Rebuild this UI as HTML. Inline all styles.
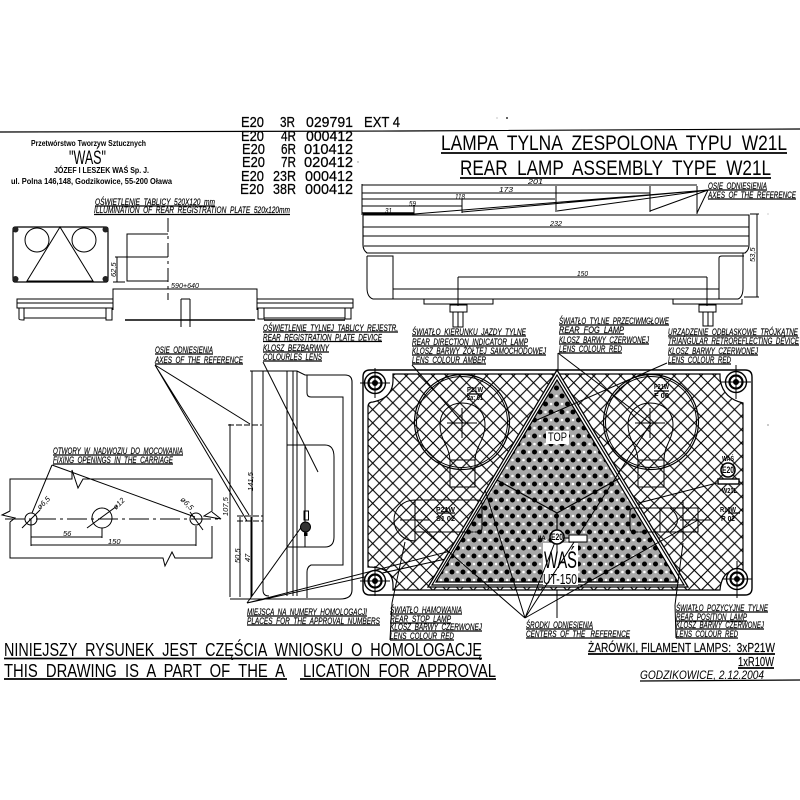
<!DOCTYPE html>
<html><head><meta charset="utf-8"><style>
html,body{margin:0;padding:0;background:#fff}
svg{display:block}
text{font-family:"Liberation Sans",sans-serif;fill:#000;white-space:pre}
.i{font-style:italic;font-size:9.5px;stroke:#000;stroke-width:.18}
.s{font-size:7.5px;font-style:italic}
.b{font-weight:bold;font-size:7px}
.e text{font-size:15px;stroke:#000;stroke-width:.25}
.h{stroke:#000;stroke-width:.15}
</style></head><body>
<svg width="800" height="800" viewBox="0 0 800 800" xmlns="http://www.w3.org/2000/svg">
<defs>
<pattern id="h" width="13.4" height="13.4" patternUnits="userSpaceOnUse" x="366" y="376">
<path d="M0 0L13.4 13.4M13.4 0L0 13.4" stroke="#000" stroke-width="1.1"/>
</pattern>
<pattern id="d" width="11" height="16" patternUnits="userSpaceOnUse" x="430" y="380">
<rect width="11" height="16" fill="#a8a8a8"/>
<circle cx="5.5" cy="0" r="1.3" fill="#fff"/><circle cx="5.5" cy="16" r="1.3" fill="#fff"/>
<circle cx="0" cy="8" r="1.3" fill="#fff"/><circle cx="11" cy="8" r="1.3" fill="#fff"/>
<circle cx="0" cy="0" r="2.5"/><circle cx="11" cy="0" r="2.5"/><circle cx="0" cy="16" r="2.5"/><circle cx="11" cy="16" r="2.5"/>
<circle cx="5.5" cy="8" r="2.5"/>
</pattern>
</defs>
<rect width="800" height="800" fill="#fff"/>
<g fill="none" stroke="#000" stroke-width="1">
<path d="M0 132L400 131L800 129" stroke-width="1.2"/>

<!-- side view top right -->
<path d="M363 215H749V245Q749 250 745 253H367Q363 250 363 245Z" stroke-width="1.1"/>
<path d="M363 227H749M363 236H749M364 246H748M363 214H414" />
<path d="M367 256H393V299M367 256V288Q367 297 373 299H738Q743 297 743 288V253M719 299V258Q719 256 722 256H744M393 289H719" />
<path d="M424 299V304H493V299M673 299V304H742V299"/>
<path d="M450 305V312H467V305ZM453 312V327H463V312ZM458 312V327M699 305V312H716V305ZM703 312V326H713V312ZM708 312V326"/>
<path d="M458 277H707M458 277V306M707 277V306"/>
<path d="M362 184V215M362 185H697M697 186V214M650 186V212M556 186V212M462 199V213M414 205V214"/>
<path d="M362 193H650M362 199H555M362 206H462"/>
<path d="M362 213H414" stroke-width="1.6"/>
<path d="M708 190L414 214M708 190L462 212M708 190L557 211M708 190L650 211M708 190L697 213"/>
<path d="M750 214H759M744 297H759M757 214V297"/>

<!-- small lamp -->
<rect x="13" y="227" width="95" height="55" rx="2" stroke-width="1.2"/>
<circle cx="37" cy="240" r="12"/><circle cx="84" cy="240" r="12"/>
<path d="M60 227L27 281H93Z"/>
<g fill="#222" stroke="none"><circle cx="15.500" cy="229.500" r="3"/><circle cx="105.500" cy="229.500" r="3"/><circle cx="15.500" cy="279" r="3"/><circle cx="105.500" cy="279" r="3"/></g>
<path d="M168 218V300" stroke-dasharray="14 4 3 4"/>
<path d="M168 234H127V281H168"/>
<path d="M168 257H115M117 257V282M113 282H125"/>
<path d="M113 310V289H257V310"/>
<path d="M17 299H113V308H17ZM17 303H113M19 308V319Q19 320 24 320V308M106 308V320H112V308M24 318H106"/>
<path d="M257 299H353V308H257ZM257 303H353M258 308V319H264V308M345 308V319H351V308M264 318H345"/>
<path d="M125 320H255M264 320H345" stroke-width="1.4"/>
<path d="M181 299V327M190 299V327M181 299H190"/>

<!-- section view -->
<path d="M250 371H297L305 375H345Q352 375 352 382V590Q352 599 340 599H230" stroke-width="1.1"/>
<path d="M252 371V596M263 371V590Q263 596 269 596M287 371V596M293 371V596M297 371V596"/>
<path d="M307 375V393Q307 397 311 397H343V565H311Q307 567 307 572V598"/>
<path d="M287 445H325Q334 445 334 457V537Q334 547 325 547H287M305 445V547"/>
<path d="M228 425H262" stroke-dasharray="6 2"/>
<path d="M230 424V597M240 517V597M251 517V597"/>
<path d="M237 516H263M237 521H263" stroke-dasharray="6 2"/>
<path d="M155 365L250 424M155 365L249 515M155 365L247 521"/>
<path d="M263 362L318 472"/>
<path d="M247 603L305 522M247 603L717 483M247 603L545 537"/>
<rect x="304" y="511" width="4.500" height="9"/>
<circle cx="305.500" cy="527" r="5" fill="#333"/>
<rect x="304.500" y="533" width="2.500" height="2.500" fill="#000"/>

<!-- fixing drawing -->
<path d="M10 511V479H72L72 470L78 488L83 479H212V511L204 516L221 519L212 512M212 526V558H175L172 552L165 566L163 558H10V522M10 511L2 515L15 518L10 522"/>
<circle cx="31" cy="519" r="6"/><circle cx="102" cy="518" r="10"/><circle cx="196" cy="519" r="6"/>
<path d="M5 519H220" stroke-dasharray="20 4 3 4"/>
<path d="M22 528L40 510M87 528L117 506M203 530L190 512M52 465L32 513M52 465L195 517"/>
<path d="M31 520V546M102 528V538M196 526V546M31 537H102M31 545H196"/>

<!-- main lamp -->
<path d="M376 370H745Q752 370 752 377V588Q752 595 745 595H370Q363 595 363 588V377Q363 370 370 370Z" stroke-width="1.4"/>
<path d="M393 374H720V378Q722 398 743 403V570Q722 567 720 590H393V585Q393 567 368 567V407Q368 402 373 402Q393 398 393 380Z" fill="url(#h)" stroke-width="1.2"/>
<path d="M557 370L428 587H688Z" fill="#fff" stroke-width="1.3"/>
<path d="M557 375L432 585H684Z" stroke-width="1.2"/>
<path d="M557 380L436 582H678Z" fill="url(#d)" stroke-width="1.2"/>
<rect x="543" y="543" width="35" height="42" fill="#fff" stroke="none"/>
<rect x="546" y="431" width="23" height="13" fill="#fff" stroke="none"/>
<path d="M557 513L497 480M557 513L620 478M557 513V530" stroke-width="1.2"/>

<circle cx="462" cy="422" r="47.500" stroke-width="1.2"/><circle cx="462" cy="422" r="45.500"/>
<circle cx="651" cy="422" r="47.500" stroke-width="1.2"/><circle cx="651" cy="422" r="45.500"/>
<path d="M450 460C449 445 440 440 440 425C440 411 450 403 462 403C475 403 485 411 485 425C485 440 476 445 475 460M450 460V487H475V460ZM447 423H477M462 408V438"/>
<path d="M638 460C637 445 628 440 628 425C628 411 638 403 650 403C663 403 673 411 673 425C673 440 664 445 664 460M638 460V487H664V460ZM635 423H665M650 408V438"/>
<path d="M415 500C403 500 394 509 394 520C394 531 403 541 415 541M415 500V541M415 500H478Q482 500 482 504V528Q482 532 478 532H415M400 520H430"/>
<path d="M634 508H698V532H634Q630 532 630 528V512Q630 508 634 508ZM660 508V532M683 500V540M680 520H712M670 508Q685 520 670 532"/>

<g fill="#fff" stroke="#000">
<g><circle cx="375" cy="383" r="10.500" stroke-width="1.4"/><circle cx="375" cy="383" r="6.500" stroke-width="2.200"/><circle cx="375" cy="383" r="2.500" fill="#000"/><path d="M360 383H390M375 368V398"/></g>
<g><circle cx="736" cy="382" r="10.500" stroke-width="1.4"/><circle cx="736" cy="382" r="6.500" stroke-width="2.200"/><circle cx="736" cy="382" r="2.500" fill="#000"/><path d="M721 382H751M736 365V399"/></g>
<g><circle cx="375" cy="581" r="10.500" stroke-width="1.4"/><circle cx="375" cy="581" r="6.500" stroke-width="2.200"/><circle cx="375" cy="581" r="2.500" fill="#000"/><path d="M360 581H390M375 566V596"/></g>
<g><circle cx="737" cy="579" r="10.500" stroke-width="1.4"/><circle cx="737" cy="579" r="6.500" stroke-width="2.200"/><circle cx="737" cy="579" r="2.500" fill="#000"/><path d="M722 579H752M737 561V598"/></g>
</g>

<!-- leaders in lamp -->
<path d="M412 365L463 423M558 353V370M558 353L650 423M667 363L537 420M525 618L418 525M525 618L485 490M525 618L557 537M525 618L651 423M525 618L698 520M557 590V618"/>
<path d="M392 603L390 640M392 603L405 542M675 605L676 638M675 605L683 543"/>
<circle cx="557" cy="537" r="7" fill="#fff" stroke-width="1.6"/>
<rect x="569" y="535" width="18" height="7" fill="#fff"/>
<path d="M564 538H569M557 544V552"/>
<circle cx="728" cy="470" r="7" fill="#fff" stroke-width="1.6"/>
<rect x="718" y="479" width="21" height="5" fill="#fff" stroke-width="1.4"/>

<!-- underlines -->
<path stroke-width="1.300" d="M95 206H215M94 214.500H290M708 190H767M708 199H796M263 332H398M263 341.500H382M263 352H329M263 361H322M155 354H213M155 364H243M53 455H183M53 464H173M247 616H367M247 625H380M412 336H526M412 346H528M412 355H546M412 364H486M559 325H669M559 334H624M559 344H649M559 353H622M668 336H798M668 345H799M668 355H758M668 364H731M390 614H462M390 623H451M390 631H482M390 640H454M526 629H593M526 638H630M676 612H768M676 621H747M676 629H764M676 638H738"/>
<path stroke-width="1.800" d="M441 153H787M460 178H771M4 658.500H482M4 679H287M300 679H496M588 654H775M738 668H774"/>
<path stroke-width="1.200" d="M640 681L800 680M437 513H455M467 394H483M654 391H669M728 513H740"/>
</g>

<!-- texts -->
<text x="31" y="146" class="b" style="font-size:8px" textLength="115" lengthAdjust="spacingAndGlyphs">Przetwórstwo Tworzyw Sztucznych</text>
<text x="69" y="164" style="font-size:19px" textLength="37" lengthAdjust="spacingAndGlyphs">"WAŚ"</text>
<text x="54" y="173" class="b" style="font-size:8px" textLength="95" lengthAdjust="spacingAndGlyphs">JÓZEF I LESZEK WAŚ Sp. J.</text>
<text x="11" y="184" class="b" style="font-size:8px" textLength="161" lengthAdjust="spacingAndGlyphs">ul. Polna 146,148, Godzikowice, 55-200 Oława</text>

<g class="e">
<text x="241" y="127" textLength="23" lengthAdjust="spacingAndGlyphs">E20</text><text x="280" y="127" textLength="15" lengthAdjust="spacingAndGlyphs">3R</text><text x="306" y="127" textLength="47" lengthAdjust="spacingAndGlyphs">029791</text><text x="364" y="127" textLength="36" lengthAdjust="spacingAndGlyphs">EXT 4</text>
<text x="241" y="141" textLength="23" lengthAdjust="spacingAndGlyphs">E20</text><text x="281" y="141" textLength="15" lengthAdjust="spacingAndGlyphs">4R</text><text x="306" y="141" textLength="47" lengthAdjust="spacingAndGlyphs">000412</text>
<text x="242" y="154" textLength="23" lengthAdjust="spacingAndGlyphs">E20</text><text x="281" y="154" textLength="15" lengthAdjust="spacingAndGlyphs">6R</text><text x="304" y="154" textLength="49" lengthAdjust="spacingAndGlyphs">010412</text>
<text x="242" y="167" textLength="23" lengthAdjust="spacingAndGlyphs">E20</text><text x="281" y="167" textLength="15" lengthAdjust="spacingAndGlyphs">7R</text><text x="304" y="167" textLength="49" lengthAdjust="spacingAndGlyphs">020412</text>
<text x="241" y="181" textLength="23" lengthAdjust="spacingAndGlyphs">E20</text><text x="273" y="181" textLength="23" lengthAdjust="spacingAndGlyphs">23R</text><text x="305" y="181" textLength="48" lengthAdjust="spacingAndGlyphs">000412</text>
<text x="240" y="194" textLength="24" lengthAdjust="spacingAndGlyphs">E20</text><text x="273" y="194" textLength="23" lengthAdjust="spacingAndGlyphs">38R</text><text x="305" y="194" textLength="48" lengthAdjust="spacingAndGlyphs">000412</text>
</g>

<text x="441" y="150" style="font-size:21px" textLength="346" lengthAdjust="spacingAndGlyphs">LAMPA  TYLNA  ZESPOLONA  TYPU  W21L</text>
<text x="460" y="175" style="font-size:21px" textLength="311" lengthAdjust="spacingAndGlyphs">REAR  LAMP  ASSEMBLY  TYPE  W21L</text>

<text x="95" y="205" class="i" textLength="120" lengthAdjust="spacingAndGlyphs">OŚWIETLENIE  TABLICY  520X120  mm</text>
<text x="94" y="213" class="i" textLength="196" lengthAdjust="spacingAndGlyphs">ILLUMINATION  OF  REAR  REGISTRATION  PLATE  520x120mm</text>
<text x="708" y="189" class="i" textLength="59" lengthAdjust="spacingAndGlyphs">OSIE  ODNIESIENIA</text>
<text x="708" y="198" class="i" textLength="88" lengthAdjust="spacingAndGlyphs">AXES  OF  THE  REFERENCE</text>

<text x="263" y="331" class="i" textLength="135" lengthAdjust="spacingAndGlyphs">OŚWIETLENIE  TYLNEJ  TABLICY  REJESTR.</text>
<text x="263" y="340.500" class="i" textLength="119" lengthAdjust="spacingAndGlyphs">REAR  REGISTRATION  PLATE  DEVICE</text>
<text x="263" y="351" class="i" textLength="66" lengthAdjust="spacingAndGlyphs">KLOSZ  BEZBARWNY</text>
<text x="263" y="360" class="i" textLength="59" lengthAdjust="spacingAndGlyphs">COLOURLES  LENS</text>

<text x="155" y="353" class="i" textLength="58" lengthAdjust="spacingAndGlyphs">OSIE  ODNIESIENIA</text>
<text x="155" y="363" class="i" textLength="88" lengthAdjust="spacingAndGlyphs">AXES  OF  THE  REFERENCE</text>

<text x="53" y="454" class="i" textLength="130" lengthAdjust="spacingAndGlyphs">OTWORY  W  NADWOZIU  DO  MOCOWANIA</text>
<text x="53" y="463" class="i" textLength="120" lengthAdjust="spacingAndGlyphs">FIXING  OPENINGS  IN  THE  CARRIAGE</text>

<text x="247" y="615" class="i" textLength="120" lengthAdjust="spacingAndGlyphs">MIEJSCA  NA  NUMERY  HOMOLOGACJI</text>
<text x="247" y="624" class="i" textLength="133" lengthAdjust="spacingAndGlyphs">PLACES  FOR  THE  APPROVAL  NUMBERS</text>

<text x="412" y="335" class="i" textLength="114" lengthAdjust="spacingAndGlyphs">ŚWIATŁO  KIERUNKU  JAZDY  TYLNE</text>
<text x="412" y="345" class="i" textLength="116" lengthAdjust="spacingAndGlyphs">REAR  DIRECTION  INDICATOR  LAMP</text>
<text x="412" y="354" class="i" textLength="134" lengthAdjust="spacingAndGlyphs">KLOSZ  BARWY  ŻÓŁTEJ  SAMOCHODOWEJ</text>
<text x="412" y="363" class="i" textLength="74" lengthAdjust="spacingAndGlyphs">LENS  COLOUR  AMBER</text>

<text x="559" y="324" class="i" textLength="110" lengthAdjust="spacingAndGlyphs">ŚWIATŁO  TYLNE  PRZECIWMGŁOWE</text>
<text x="559" y="333" class="i" textLength="65" lengthAdjust="spacingAndGlyphs">REAR  FOG  LAMP</text>
<text x="559" y="343" class="i" textLength="90" lengthAdjust="spacingAndGlyphs">KLOSZ  BARWY  CZERWONEJ</text>
<text x="559" y="352" class="i" textLength="63" lengthAdjust="spacingAndGlyphs">LENS  COLOUR  RED</text>

<text x="668" y="335" class="i" textLength="130" lengthAdjust="spacingAndGlyphs">URZĄDZENIE  ODBLASKOWE  TRÓJKĄTNE</text>
<text x="668" y="344" class="i" textLength="131" lengthAdjust="spacingAndGlyphs">TRIANGULAR  RETROREFLECTING  DEVICE</text>
<text x="668" y="354" class="i" textLength="90" lengthAdjust="spacingAndGlyphs">KLOSZ  BARWY  CZERWONEJ</text>
<text x="668" y="363" class="i" textLength="63" lengthAdjust="spacingAndGlyphs">LENS  COLOUR  RED</text>

<text x="390" y="613" class="i" textLength="72" lengthAdjust="spacingAndGlyphs">ŚWIATŁO  HAMOWANIA</text>
<text x="390" y="622" class="i" textLength="61" lengthAdjust="spacingAndGlyphs">REAR  STOP  LAMP</text>
<text x="390" y="630" class="i" textLength="92" lengthAdjust="spacingAndGlyphs">KLOSZ  BARWY  CZERWONEJ</text>
<text x="390" y="639" class="i" textLength="64" lengthAdjust="spacingAndGlyphs">LENS  COLOUR  RED</text>

<text x="526" y="628" class="i" textLength="67" lengthAdjust="spacingAndGlyphs">ŚRODKI  ODNIESIENIA</text>
<text x="526" y="637" class="i" textLength="104" lengthAdjust="spacingAndGlyphs">CENTERS  OF  THE   REFERENCE</text>

<text x="676" y="611" class="i" textLength="92" lengthAdjust="spacingAndGlyphs">ŚWIATŁO  POZYCYJNE  TYLNE</text>
<text x="676" y="620" class="i" textLength="71" lengthAdjust="spacingAndGlyphs">REAR  POSITION  LAMP</text>
<text x="676" y="628" class="i" textLength="88" lengthAdjust="spacingAndGlyphs">KLOSZ  BARWY  CZERWONEJ</text>
<text x="676" y="637" class="i" textLength="62" lengthAdjust="spacingAndGlyphs">LENS  COLOUR  RED</text>

<text x="4" y="656" style="font-size:18px" textLength="478" lengthAdjust="spacingAndGlyphs">NINIEJSZY  RYSUNEK  JEST  CZĘŚCIA  WNIOSKU  O  HOMOLOGACJĘ</text>
<text x="4" y="677" style="font-size:18px" textLength="281" lengthAdjust="spacingAndGlyphs">THIS  DRAWING  IS  A  PART  OF  THE  A</text>
<text x="303" y="677" style="font-size:18px" textLength="193" lengthAdjust="spacingAndGlyphs">LICATION  FOR  APPROVAL</text>

<text x="588" y="652" class="h" style="font-size:13px" textLength="187" lengthAdjust="spacingAndGlyphs">ŻARÓWKI, FILAMENT LAMPS:  3xP21W</text>
<text x="738" y="666" class="h" style="font-size:13px" textLength="36" lengthAdjust="spacingAndGlyphs">1xR10W</text>
<text x="640" y="679" style="font-size:12px;font-style:italic" textLength="124" lengthAdjust="spacingAndGlyphs">GODZIKOWICE, 2.12.2004</text>

<g>
<text x="528" y="184" class="s" textLength="15" lengthAdjust="spacingAndGlyphs">201</text>
<text x="499" y="192" class="s" textLength="14" lengthAdjust="spacingAndGlyphs">173</text>
<text x="455" y="199" class="s" textLength="10" lengthAdjust="spacingAndGlyphs">118</text>
<text x="409" y="206" class="s" textLength="7" lengthAdjust="spacingAndGlyphs">59</text>
<text x="385" y="213" class="s" textLength="7" lengthAdjust="spacingAndGlyphs">31</text>
<text x="550" y="226" class="s" textLength="12" lengthAdjust="spacingAndGlyphs">232</text>
<text x="577" y="276" class="s" textLength="11" lengthAdjust="spacingAndGlyphs">150</text>
<text transform="translate(755,262) rotate(-90)" class="s">53,5</text>
<text x="171" y="288" class="s" textLength="28" lengthAdjust="spacingAndGlyphs">590+640</text>
<text transform="translate(116,277) rotate(-90)" class="s">62,5</text>
<text transform="translate(228,516) rotate(-90)" class="s">107,5</text>
<text transform="translate(253,491) rotate(-90)" class="s">141,5</text>
<text transform="translate(240,563) rotate(-90)" class="s">50,5</text>
<text transform="translate(250,562) rotate(-90)" class="s">47</text>
<text transform="translate(40,510) rotate(-45)" class="s">ø6,5</text>
<text transform="translate(116,510) rotate(-45)" class="s">ø12</text>
<text transform="translate(180,500) rotate(45)" class="s">ø6,5</text>
<text x="63" y="536" class="s">56</text>
<text x="108" y="544" class="s">150</text>
</g>

<g>
<text x="467" y="392" class="b" textLength="16" lengthAdjust="spacingAndGlyphs">P21W</text>
<text x="467" y="400" class="b" textLength="16" lengthAdjust="spacingAndGlyphs">2a; 01</text>
<text x="654" y="389" class="b" textLength="15" lengthAdjust="spacingAndGlyphs">P21W</text>
<text x="654" y="398" class="b" textLength="15" lengthAdjust="spacingAndGlyphs">F 00</text>
<text x="436" y="512" class="b" textLength="19" lengthAdjust="spacingAndGlyphs">P21W</text>
<text x="436" y="521" class="b" textLength="19" lengthAdjust="spacingAndGlyphs">S1 02</text>
<text x="720" y="512" class="b" textLength="16" lengthAdjust="spacingAndGlyphs">R10W</text>
<text x="721" y="521" class="b" textLength="14" lengthAdjust="spacingAndGlyphs">R 02</text>
<text x="722" y="461" class="b" textLength="12" lengthAdjust="spacingAndGlyphs">WAŚ</text>
<text x="722" y="473" class="b" style="font-size:9px" textLength="12" lengthAdjust="spacingAndGlyphs">E20</text>
<text x="722" y="493" class="b" textLength="15" lengthAdjust="spacingAndGlyphs">W21L</text>
<text x="551" y="540" class="b" style="font-size:9px" textLength="12" lengthAdjust="spacingAndGlyphs">E20</text>
<text x="538" y="540" class="b" style="font-size:6px">IIA</text>
</g>
<text x="548" y="441" style="font-size:12px" textLength="19" lengthAdjust="spacingAndGlyphs">TOP</text>
<text x="544" y="568" style="font-size:24px" textLength="33" lengthAdjust="spacingAndGlyphs">WAŚ</text>
<text x="543" y="584" style="font-size:15px" textLength="34" lengthAdjust="spacingAndGlyphs">UT-150</text>

<circle cx="497" cy="118" r="0.6" fill="#999"/><circle cx="507" cy="118" r="1" fill="#333"/><circle cx="358" cy="162" r="0.7" fill="#888"/><circle cx="768" cy="214" r="0.6" fill="#aaa"/><circle cx="768" cy="425" r="1" fill="#bbb"/>
</svg>
</body></html>
